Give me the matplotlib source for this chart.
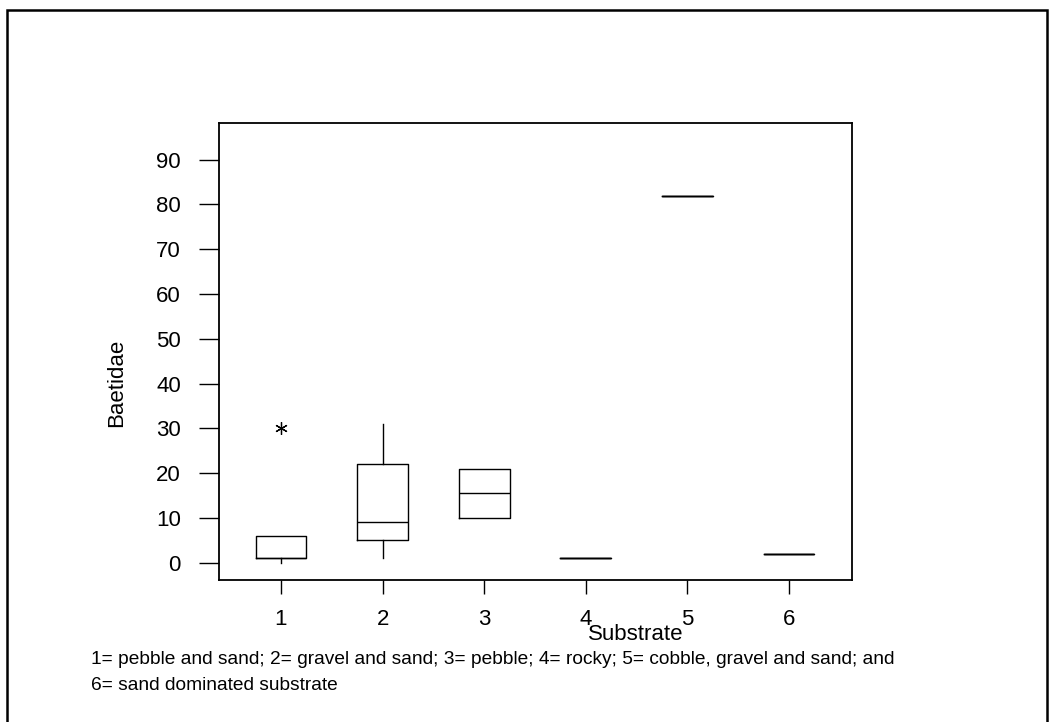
import matplotlib
matplotlib.use("Agg")
import matplotlib.pyplot as plt
from matplotlib.patches import Rectangle

plt.rcParams['font.family'] = ['Liberation Sans', 'DejaVu Sans']

# Data
categories = ["1", "2", "3", "4", "5", "6"]
q1 = [1, 5, 10, 1, 82, 2]
median = [1, 9, 15.5, 1, 82, 2]
q3 = [6, 22, 21, 1, 82, 2]
whisker_low = [0, 1, 10, 1, 82, 2]
whisker_high = [6, 31, 21, 1, 82, 2]
outliers = [[30], [], [], [], [], []]
y_ticks = [0, 10, 20, 30, 40, 50, 60, 70, 80, 90]
x_label = "Substrate"
y_label = "Baetidae"
note_lines = ["1= pebble and sand; 2= gravel and sand; 3= pebble; 4= rocky; 5= cobble, gravel and sand; and",
              "6= sand dominated substrate"]

W, H = 1055, 722
fig = plt.figure(figsize=(W / 100, H / 100), dpi=100)

def fx(px):
    return px / W

def fy(py):
    return 1 - py / H

ax = fig.add_axes([fx(219), fy(580), fx(852) - fx(219), fy(123) - fy(580)])

stats = []
for i, c in enumerate(categories):
    stats.append(dict(label=c, q1=q1[i], med=median[i], q3=q3[i],
                      whislo=whisker_low[i], whishi=whisker_high[i],
                      fliers=outliers[i]))

lw = 1.0
ax.bxp(stats, positions=range(1, len(categories) + 1), widths=0.5,
       showcaps=False, showfliers=True,
       boxprops=dict(color='black', linewidth=lw),
       whiskerprops=dict(color='black', linewidth=lw),
       medianprops=dict(color='black', linewidth=lw),
       flierprops=dict(marker=(6, 2, 0), markersize=9, markeredgecolor='black',
                       markeredgewidth=0.9, linestyle='none'))

ax.set_xlim(0.39, 6.62)
ax.set_ylim(-3.9, 98.2)
ax.set_yticks(y_ticks)
ax.set_yticklabels([str(v) for v in y_ticks])
ax.set_xticks(range(1, len(categories) + 1))
ax.set_xticklabels(categories)

for s in ax.spines.values():
    s.set_linewidth(1.3)
    s.set_color('black')

ax.tick_params(axis='y', direction='out', length=14.5, width=1.0, pad=13, labelsize=16)
ax.tick_params(axis='x', direction='out', length=10, width=1.0, pad=11, labelsize=16)

fig.text(fx(636), fy(634), x_label, ha='center', va='center', fontsize=16)
fig.text(fx(117), fy(383), y_label, ha='center', va='center', rotation=90, fontsize=16)

fig.text(fx(91), fy(664), note_lines[0], ha='left', va='baseline', fontsize=13.8)
fig.text(fx(91), fy(690), note_lines[1], ha='left', va='baseline', fontsize=13.8)

border = Rectangle((fx(7), fy(740)), fx(1047) - fx(7), fy(10) - fy(740),
                   transform=fig.transFigure, fill=False, edgecolor='black',
                   linewidth=1.8, clip_on=False)
fig.patches.append(border)

fig.savefig("out.png", dpi=100, facecolor='white')
